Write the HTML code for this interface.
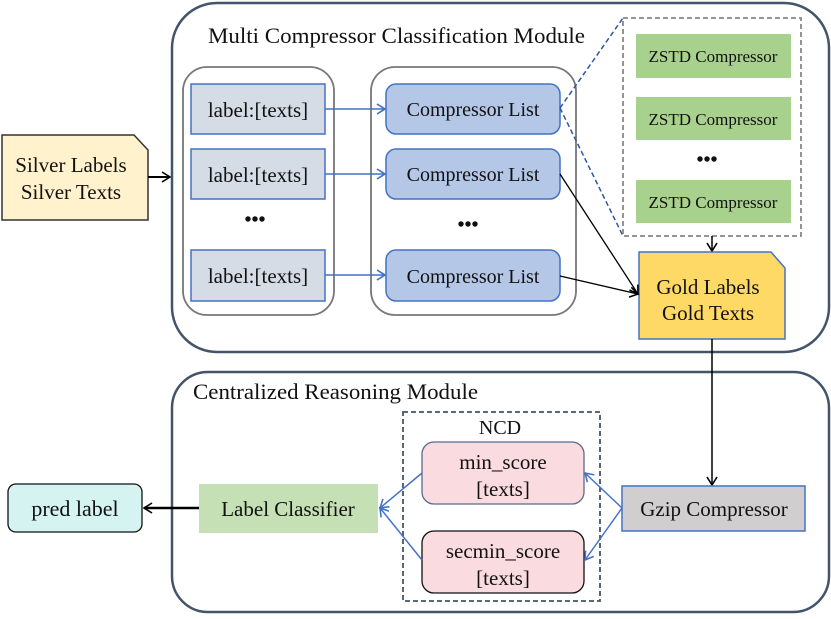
<!DOCTYPE html>
<html><head><meta charset="utf-8"><style>
html,body{margin:0;padding:0;background:#fff}
svg text{font-family:"Liberation Serif",serif;fill:#111}
</style></head><body>
<svg width="831" height="614" viewBox="0 0 831 614" xmlns="http://www.w3.org/2000/svg">
<defs>
<marker id="ab" markerWidth="12" markerHeight="12" refX="9" refY="6" orient="auto" markerUnits="userSpaceOnUse"><path d="M1,1 L9,6 L1,11" fill="none" stroke="#4472c4" stroke-width="1.6"/></marker>
<marker id="ak" markerWidth="12" markerHeight="12" refX="9" refY="6" orient="auto" markerUnits="userSpaceOnUse"><path d="M1,1 L9,6 L1,11" fill="none" stroke="#000" stroke-width="1.6"/></marker>
</defs>
<rect x="172" y="3" width="657" height="349" rx="45" fill="#fff" stroke="#44546a" stroke-width="2.5"/>
<text x="208" y="43" font-size="22" textLength="377" lengthAdjust="spacingAndGlyphs">Multi Compressor Classification Module</text>
<path d="M2,135 L134,135 L148,150 L148,220 L2,220 Z" fill="#fff2cc" stroke="#333" stroke-width="1.5"/>
<text x="71" y="172" font-size="21" text-anchor="middle">Silver Labels</text>
<text x="71" y="199" font-size="21" text-anchor="middle">Silver Texts</text>
<line x1="148" y1="177" x2="170" y2="177" stroke="#000" stroke-width="2" marker-end="url(#ak)"/>
<rect x="183" y="67" width="151" height="248" rx="24" fill="#fff" stroke="#777" stroke-width="1.8"/>
<rect x="371" y="67" width="205" height="248" rx="24" fill="#fff" stroke="#777" stroke-width="1.8"/>
<g font-size="21">
<rect x="191" y="84" width="134" height="50" fill="#d6dce5" stroke="#4472c4" stroke-width="1.5"/>
<text x="258" y="117" text-anchor="middle">label:[texts]</text>
<rect x="191" y="149" width="134" height="50" fill="#d6dce5" stroke="#4472c4" stroke-width="1.5"/>
<text x="258" y="182" text-anchor="middle">label:[texts]</text>
<rect x="191" y="250" width="134" height="51" fill="#d6dce5" stroke="#4472c4" stroke-width="1.5"/>
<text x="258" y="283" text-anchor="middle">label:[texts]</text>
</g>
<text x="255" y="226" font-size="20" text-anchor="middle" font-weight="bold">•••</text>
<text x="468" y="231" font-size="20" text-anchor="middle" font-weight="bold">•••</text>
<g font-size="20">
<rect x="386" y="84" width="174" height="50" rx="10" fill="#b4c7e7" stroke="#4472c4" stroke-width="1.5"/>
<text x="473" y="116" text-anchor="middle">Compressor List</text>
<rect x="386" y="149" width="174" height="50" rx="10" fill="#b4c7e7" stroke="#4472c4" stroke-width="1.5"/>
<text x="473" y="181" text-anchor="middle">Compressor List</text>
<rect x="386" y="250" width="174" height="51" rx="10" fill="#b4c7e7" stroke="#4472c4" stroke-width="1.5"/>
<text x="473" y="283" text-anchor="middle">Compressor List</text>
</g>
<g stroke="#4472c4" stroke-width="1.5" marker-end="url(#ab)">
<line x1="325" y1="109" x2="385" y2="109"/>
<line x1="325" y1="174" x2="385" y2="174"/>
<line x1="325" y1="275" x2="385" y2="275"/>
</g>
<line x1="560" y1="108" x2="623" y2="18" stroke="#2f55a4" stroke-width="1.5" stroke-dasharray="5,3"/>
<line x1="560" y1="108" x2="623" y2="236" stroke="#2f55a4" stroke-width="1.5" stroke-dasharray="5,3"/>
<rect x="623" y="18" width="178" height="218" fill="#fff" stroke="#888" stroke-width="1.8" stroke-dasharray="5,3"/>
<g font-size="17">
<rect x="636" y="34" width="155" height="44" fill="#a9d18e"/>
<text x="713" y="62" text-anchor="middle">ZSTD Compressor</text>
<rect x="636" y="97" width="155" height="43" fill="#a9d18e"/>
<text x="713" y="125" text-anchor="middle">ZSTD Compressor</text>
<rect x="636" y="180" width="155" height="43" fill="#a9d18e"/>
<text x="713" y="208" text-anchor="middle">ZSTD Compressor</text>
</g>
<text x="707" y="166" font-size="20" text-anchor="middle" font-weight="bold">•••</text>
<line x1="712" y1="236" x2="712" y2="251" stroke="#000" stroke-width="1.5" marker-end="url(#ak)"/>
<path d="M639,252 L771,252 L785,268 L785,339 L639,339 Z" fill="#ffd966" stroke="#4472c4" stroke-width="1.5"/>
<text x="708" y="294" font-size="21" text-anchor="middle">Gold Labels</text>
<text x="708" y="320" font-size="21" text-anchor="middle">Gold Texts</text>
<line x1="560" y1="174" x2="638" y2="294" stroke="#000" stroke-width="1.3" marker-end="url(#ak)"/>
<line x1="560" y1="276" x2="638" y2="294" stroke="#000" stroke-width="1.3" marker-end="url(#ak)"/>
<rect x="172" y="372" width="657" height="240" rx="36" fill="#fff" stroke="#44546a" stroke-width="2.5"/>
<text x="193" y="399" font-size="22" textLength="285" lengthAdjust="spacingAndGlyphs">Centralized Reasoning Module</text>
<line x1="712" y1="339" x2="712" y2="485" stroke="#000" stroke-width="1.5" marker-end="url(#ak)"/>
<rect x="403" y="412" width="197" height="189" fill="none" stroke="#44546a" stroke-width="1.8" stroke-dasharray="5,3"/>
<text x="500" y="434" font-size="20" text-anchor="middle">NCD</text>
<g font-size="21">
<rect x="422" y="442" width="162" height="62" rx="12" fill="#fadbe0" stroke="#5b6b8a" stroke-width="1.3"/>
<text x="503" y="469" text-anchor="middle">min_score</text>
<text x="503" y="496" text-anchor="middle">[texts]</text>
<rect x="422" y="531" width="162" height="62" rx="12" fill="#fadbe0" stroke="#111" stroke-width="1.3"/>
<text x="503" y="558" text-anchor="middle">secmin_score</text>
<text x="503" y="585" text-anchor="middle">[texts]</text>
<rect x="622" y="486" width="183" height="45" fill="#d0cece" stroke="#4472c4" stroke-width="1.5"/>
<text x="714" y="516" text-anchor="middle">Gzip Compressor</text>
<rect x="199" y="484" width="179" height="49" fill="#c5e0b4"/>
<text x="288" y="516" text-anchor="middle">Label Classifier</text>
<rect x="8" y="484" width="134" height="48" rx="8" fill="#d5f3f1" stroke="#111" stroke-width="1.3"/>
<text x="75" y="516" text-anchor="middle" font-size="22">pred label</text>
</g>
<g stroke="#4472c4" stroke-width="1.5" marker-end="url(#ab)" fill="none">
<line x1="622" y1="508" x2="585" y2="473"/>
<line x1="622" y1="508" x2="585" y2="560"/>
<line x1="422" y1="473" x2="380" y2="508"/>
<line x1="422" y1="560" x2="380" y2="508"/>
</g>
<line x1="199" y1="508" x2="144" y2="508" stroke="#000" stroke-width="2.5" marker-end="url(#ak)"/>
</svg>
</body></html>
